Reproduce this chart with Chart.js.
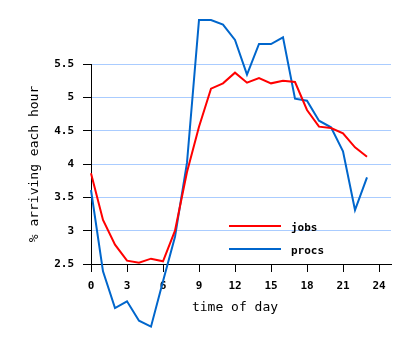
<!DOCTYPE html>
<html>
<head>
<meta charset="utf-8">
<script src="https://cdn.jsdelivr.net/npm/chart.js@4/dist/chart.umd.min.js"></script>
<style>
  html, body { margin: 0; padding: 0; background: #fff; }
  #wrap { width: 411px; height: 347px; }
</style>
</head>
<body>
<div id="wrap"><canvas id="arrivals" width="411" height="347"></canvas></div>
<script>
// hour of day, 0..23
const hours = [0, 1, 2, 3, 4, 5, 6, 7, 8, 9, 10, 11, 12, 13, 14, 15, 16, 17, 18, 19, 20, 21, 22, 23];
// % of jobs arriving each hour
const jobs = [3.86, 3.16, 2.79, 2.55, 2.52, 2.58, 2.54, 3.0, 3.88, 4.56, 5.13, 5.21, 5.37, 5.22, 5.29, 5.21, 5.25, 5.23, 4.81, 4.56, 4.54, 4.46, 4.25, 4.11];
// % of processes arriving each hour
const procs = [3.61, 2.39, 1.84, 1.94, 1.65, 1.56, 2.24, 2.91, 4.02, 6.16, 6.16, 6.09, 5.86, 5.34, 5.80, 5.80, 5.90, 4.98, 4.95, 4.65, 4.55, 4.19, 3.31, 3.80];

const seriesNames = ['jobs', 'procs'];
const seriesColors = ['#ff0000', '#0066cc'];
const xTitle = 'time of day';
const yTitle = '% arriving each hour';

const MONO = '"DejaVu Sans Mono", "Liberation Mono", monospace';

// axis titles and the in-plot key
const decorations = {
  id: 'decorations',
  afterDraw(chart) {
    const ctx = chart.ctx;
    const area = chart.chartArea;
    ctx.save();
    ctx.fillStyle = '#000';
    ctx.font = '13px ' + MONO;
    ctx.textAlign = 'center';
    ctx.textBaseline = 'middle';
    ctx.fillText(xTitle, (area.left + area.right) / 2 - 6, 308);
    ctx.translate(35, (area.top + area.bottom) / 2);
    ctx.rotate(-Math.PI / 2);
    ctx.fillText(yTitle, 0, 0);
    ctx.restore();

    ctx.save();
    ctx.font = 'bold 11px ' + MONO;
    ctx.textAlign = 'left';
    ctx.textBaseline = 'middle';
    chart.data.datasets.forEach((ds, i) => {
      const y = 226 + i * 23;
      ctx.strokeStyle = ds.borderColor;
      ctx.lineWidth = 2;
      ctx.beginPath();
      ctx.moveTo(229, y);
      ctx.lineTo(281, y);
      ctx.stroke();
      ctx.fillStyle = '#000';
      ctx.fillText(ds.label, 291, y + 2);
    });
    ctx.restore();
  }
};

new Chart(document.getElementById('arrivals'), {
  type: 'line',
  data: {
    datasets: [
      {
        label: seriesNames[0],
        data: hours.map((h, i) => ({ x: h, y: jobs[i] })),
        borderColor: seriesColors[0],
      },
      {
        label: seriesNames[1],
        data: hours.map((h, i) => ({ x: h, y: procs[i] })),
        borderColor: seriesColors[1],
      }
    ]
  },
  options: {
    responsive: false,
    animation: false,
    layout: { padding: { top: 64, right: 20, bottom: 0, left: 0 } },
    elements: {
      line: { borderWidth: 2, tension: 0, fill: false },
      point: { radius: 0 }
    },
    datasets: { line: { clip: false } },
    plugins: {
      legend: { display: false },
      tooltip: { enabled: false }
    },
    scales: {
      x: {
        type: 'linear',
        min: 0,
        max: 25,
        afterFit(scale) { scale.height = 83; },
        ticks: {
          stepSize: 3,
          includeBounds: false,
          maxRotation: 0,
          padding: 8,
          color: '#000',
          font: { family: MONO, size: 11, weight: 'bold' }
        },
        grid: { drawOnChartArea: false, tickLength: 8, tickColor: '#000', lineWidth: 1 },
        border: { color: '#000', width: 1 }
      },
      y: {
        min: 2.5,
        max: 5.5,
        afterFit(scale) { scale.width = 91; },
        ticks: {
          stepSize: 0.5,
          padding: 9,
          color: '#000',
          font: { family: MONO, size: 11, weight: 'bold' },
          callback: v => String(v)
        },
        grid: { color: '#aaccff', tickColor: '#000', tickLength: 8, lineWidth: 1 },
        border: { color: '#000', width: 1 }
      }
    }
  },
  plugins: [decorations]
});
</script>
</body>
</html>
